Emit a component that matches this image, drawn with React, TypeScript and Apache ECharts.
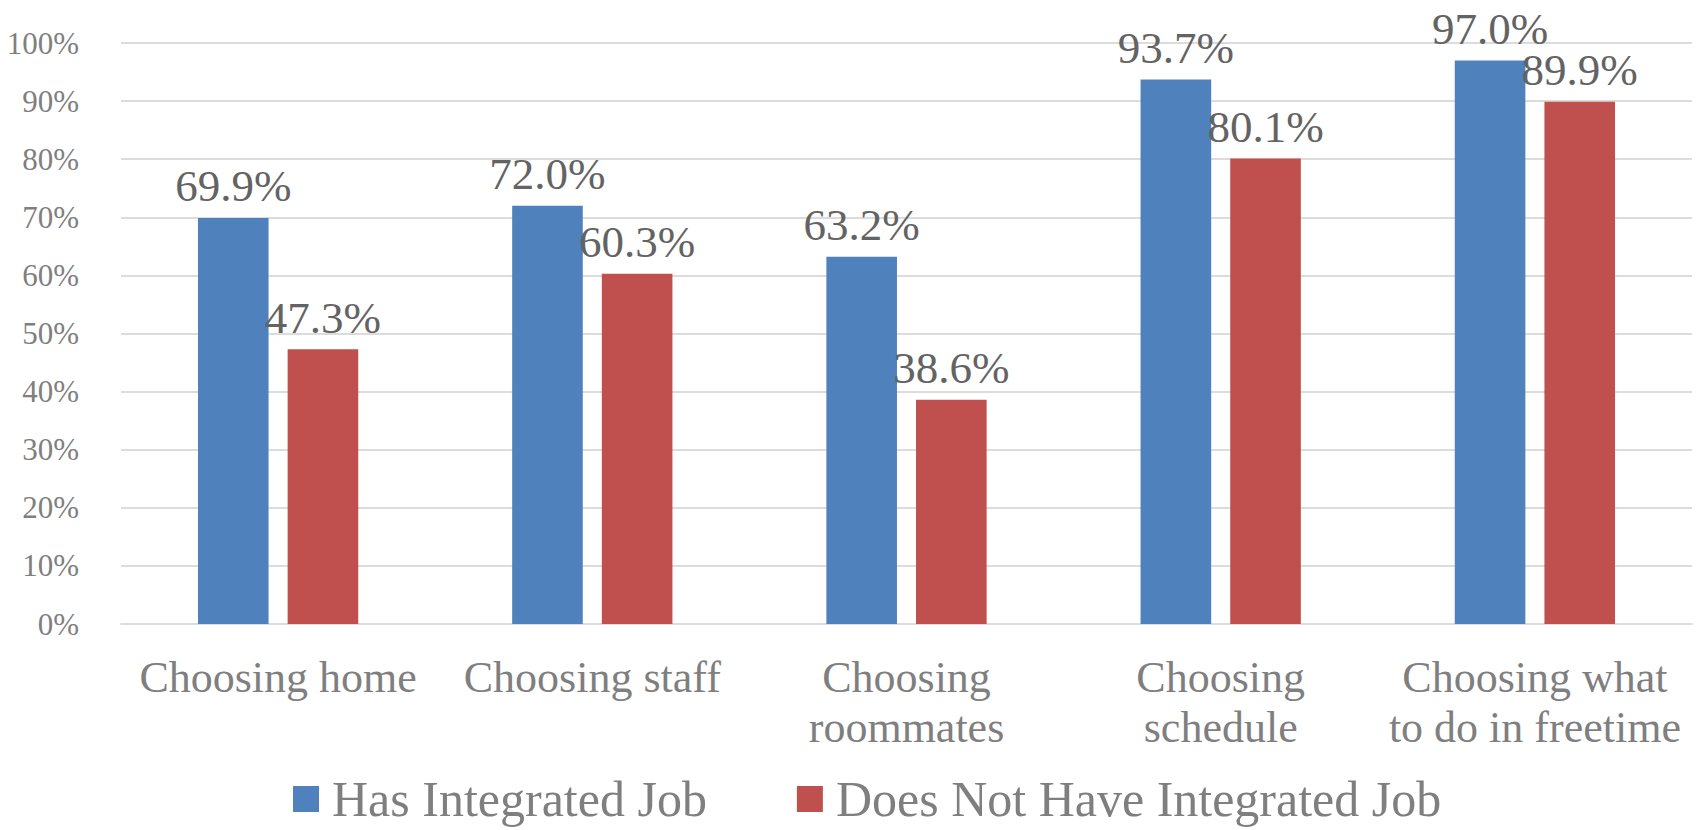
import React, { useEffect, useRef } from "react";
import * as echarts from "echarts";

const categories = [
  "Choosing home",
  "Choosing staff",
  "Choosing\nroommates",
  "Choosing\nschedule",
  "Choosing what\nto do in freetime",
];
const seriesNames = ["Has Integrated Job", "Does Not Have Integrated Job"];
const hasJob = [69.9, 72.0, 63.2, 93.7, 97.0];
const noJob = [47.3, 60.3, 38.6, 80.1, 89.9];
const colors = ["#4F81BD", "#C0504D"];

const FONT = "'Liberation Serif', 'Times New Roman', serif";

export default function App() {
  const ref = useRef<HTMLDivElement>(null);
  useEffect(() => {
    document.body.style.margin = "0";
    const chart = echarts.init(ref.current!, null, { renderer: "svg" });
    const label = {
      show: true,
      position: "top",
      distance: 9,
      fontFamily: FONT,
      fontSize: 45,
      lineHeight: 45,
      color: "#636363",
      formatter: (p: any) => Number(p.value).toFixed(1) + "%",
    };
    chart.setOption({
      animation: false,
      textStyle: { fontFamily: FONT },
      grid: { left: 121, right: 10, top: 43, bottom: 206, containLabel: false },
      legend: {
        left: 293,
        top: 774,
        padding: 0,
        itemWidth: 26,
        itemHeight: 26,
        itemGap: 90,
        icon: "rect",
        textStyle: {
          fontFamily: FONT,
          fontSize: 50,
          lineHeight: 50,
          color: "#7f7f7f",
          padding: [0, 0, 0, 8],
        },
        data: seriesNames,
      },
      xAxis: {
        type: "category",
        data: categories,
        axisTick: { show: false },
        axisLine: { show: true, lineStyle: { color: "#dcdcdc", width: 2 } },
        axisLabel: {
          margin: 28,
          fontFamily: FONT,
          fontSize: 44,
          lineHeight: 50,
          color: "#7f7f7f",
          interval: 0,
        },
      },
      yAxis: {
        type: "value",
        min: 0,
        max: 100,
        interval: 10,
        axisLine: { show: false },
        axisTick: { show: false },
        splitLine: { lineStyle: { color: "#dcdcdc", width: 2 } },
        axisLabel: {
          formatter: "{value}%",
          margin: 42,
          fontFamily: FONT,
          fontSize: 31,
          color: "#7f7f7f",
        },
      },
      series: [
        {
          name: seriesNames[0],
          type: "bar",
          data: hasJob,
          barWidth: 70.6,
          barGap: "27%",
          itemStyle: { color: colors[0] },
          label,
        },
        {
          name: seriesNames[1],
          type: "bar",
          data: noJob,
          barWidth: 70.6,
          barGap: "27%",
          itemStyle: { color: colors[1] },
          label,
        },
      ],
    });
    return () => chart.dispose();
  }, []);
  return <div ref={ref} style={{ width: 1702, height: 830 }} />;
}
